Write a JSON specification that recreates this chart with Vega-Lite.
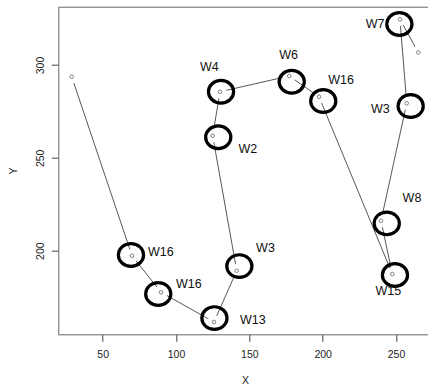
{
  "$schema": "https://vega.github.io/schema/vega-lite/v6.json",
  "width": 369.7,
  "height": 327.6,
  "autosize": {"type": "none"},
  "padding": {"left": 58.3, "top": 6.7, "right": 0, "bottom": 52.7},
  "background": "white",
  "config": {
    "view": {"stroke": null},
    "font": "Liberation Sans",
    "axis": {
      "grid": false,
      "domainColor": "#666",
      "domainWidth": 1,
      "tickColor": "#444",
      "tickSize": 7,
      "labelFont": "Liberation Sans",
      "labelFontSize": 10.5,
      "labelColor": "#222",
      "titleFont": "Liberation Sans",
      "titleFontSize": 10.5,
      "titleFontWeight": "normal",
      "titleColor": "#222"
    }
  },
  "datasets": {
    "pts": [
      {"i": 1, "x": 28.9, "y": 293.7},
      {"i": 2, "x": 70.0, "y": 197.3},
      {"i": 3, "x": 89.8, "y": 177.6},
      {"i": 4, "x": 125.9, "y": 161.6},
      {"i": 5, "x": 141.4, "y": 189.2},
      {"i": 6, "x": 125.0, "y": 261.9},
      {"i": 7, "x": 130.0, "y": 285.6},
      {"i": 8, "x": 177.2, "y": 294.1},
      {"i": 9, "x": 197.5, "y": 282.9},
      {"i": 10, "x": 247.5, "y": 187.4},
      {"i": 11, "x": 239.8, "y": 216.1},
      {"i": 12, "x": 257.3, "y": 279.4},
      {"i": 13, "x": 252.7, "y": 324.6},
      {"i": 14, "x": 265.2, "y": 306.8}
    ],
    "rings": [
      {"x": 69.3, "y": 197.7},
      {"x": 87.9, "y": 176.7},
      {"x": 126.2, "y": 163.7},
      {"x": 143.2, "y": 191.7},
      {"x": 128.8, "y": 261.1},
      {"x": 130.7, "y": 285.6},
      {"x": 178.9, "y": 291.0},
      {"x": 200.4, "y": 280.6},
      {"x": 249.3, "y": 186.9},
      {"x": 243.7, "y": 214.7},
      {"x": 260.0, "y": 277.9},
      {"x": 252.3, "y": 322.1}
    ],
    "labels": [
      {"x": 89.6, "y": 199.4, "label": "W16"},
      {"x": 108.7, "y": 181.9, "label": "W16"},
      {"x": 152.4, "y": 162.9, "label": "W13"},
      {"x": 161.0, "y": 201.3, "label": "W3"},
      {"x": 149.0, "y": 254.9, "label": "W2"},
      {"x": 122.8, "y": 299.1, "label": "W4"},
      {"x": 176.8, "y": 305.3, "label": "W6"},
      {"x": 212.6, "y": 291.7, "label": "W16"},
      {"x": 244.7, "y": 178.3, "label": "W15"},
      {"x": 260.9, "y": 228.6, "label": "W8"},
      {"x": 239.3, "y": 276.2, "label": "W3"},
      {"x": 235.7, "y": 322.2, "label": "W7"}
    ]
  },
  "resolve": {"axis": {"x": "independent"}},
  "layer": [
    {
      "data": {"name": "pts"},
      "mark": {"type": "line", "color": "#444", "strokeWidth": 0.9},
      "encoding": {
        "x": {"field": "x", "type": "quantitative", "scale": {"domain": [19.75, 271.82], "nice": false, "zero": false},
              "axis": {"title": "X", "values": [50, 100, 150, 200, 250], "labelPadding": 8, "titlePadding": 16, "titleX": 186.7}},
        "y": {"field": "y", "type": "quantitative", "scale": {"domain": [154.96, 331.42], "nice": false, "zero": false},
              "axis": {"title": "Y", "values": [200, 250, 300], "labelAngle": -90, "labelAlign": "center", "labelBaseline": "bottom", "labelPadding": 6, "titlePadding": 17}},
        "order": {"field": "i", "type": "quantitative"}
      }
    },
    {
      "data": {"name": "pts"},
      "mark": {"type": "point", "shape": "circle", "filled": true, "fill": "white", "opacity": 1, "size": 180, "strokeWidth": 0},
      "encoding": {
        "x": {"field": "x", "type": "quantitative", "axis": {"orient": "top", "labels": false, "ticks": false, "title": null, "domainColor": "#666"}},
        "y": {"field": "y", "type": "quantitative"}
      }
    },
    {
      "data": {"name": "pts"},
      "mark": {"type": "point", "shape": "circle", "filled": false, "color": "#666", "opacity": 1, "size": 13, "strokeWidth": 0.8},
      "encoding": {
        "x": {"field": "x", "type": "quantitative", "axis": null},
        "y": {"field": "y", "type": "quantitative"}
      }
    },
    {
      "data": {"name": "rings"},
      "mark": {"type": "point", "shape": "M-1,0A1,0.9,0,1,0,1,0A1,0.9,0,1,0,-1,0Z", "filled": false, "color": "black", "opacity": 1, "size": 635, "strokeWidth": 3.2},
      "encoding": {
        "x": {"field": "x", "type": "quantitative", "axis": null},
        "y": {"field": "y", "type": "quantitative"}
      }
    },
    {
      "data": {"name": "labels"},
      "mark": {"type": "text", "font": "Liberation Sans", "fontSize": 12.5, "color": "#111", "align": "center", "baseline": "middle"},
      "encoding": {
        "x": {"field": "x", "type": "quantitative", "axis": null},
        "y": {"field": "y", "type": "quantitative"},
        "text": {"field": "label"}
      }
    }
  ]
}
